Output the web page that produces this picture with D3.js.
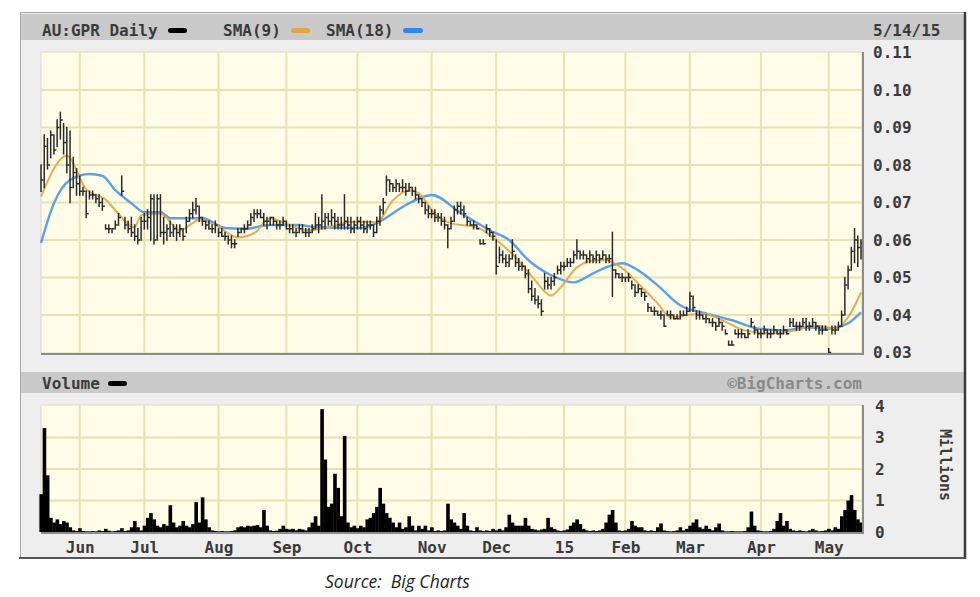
<!DOCTYPE html>
<html>
<head>
<meta charset="utf-8">
<script src="https://cdn.jsdelivr.net/npm/d3@7"></script>
<style>
  html, body { margin: 0; padding: 0; background: #ffffff; }
  svg { display: block; }
</style>
</head>
<body>
<svg id="chart" width="980" height="597"></svg>
<script>
// ---------------- DATA ----------------
const symbolLabel = "AU:GPR Daily";
const dateLabel = "5/14/15";
// trading-day index of each month start, and its label
const monthTicks = [12, 32, 55, 76, 98, 121, 141, 162, 181, 201, 223, 244];
const monthLabels = ["Jun", "Jul", "Aug", "Sep", "Oct", "Nov", "Dec", "15", "Feb", "Mar", "Apr", "May"];
const priceTicks = [0.03, 0.04, 0.05, 0.06, 0.07, 0.08, 0.09, 0.10, 0.11];
const volumeTicks = [0, 1, 2, 3, 4];

// daily high / low / close (AUD), one value per trading day
const high = [
  .080,.088,.087,.089,.088,.092,.094,.091,.090,.089,
  .082,.079,.077,.074,.073,.073,.073,.072,.072,.071,
  .064,.064,.063,.065,.067,.077,.066,.065,.066,.064,
  .063,.066,.067,.068,.072,.072,.072,.072,.066,.064,
  .065,.064,.064,.064,.063,.066,.068,.070,.071,.069,
  .066,.065,.065,.064,.065,.063,.063,.062,.061,.061,
  .060,.063,.063,.064,.065,.067,.068,.068,.068,.067,
  .066,.066,.066,.065,.065,.066,.065,.064,.064,.063,
  .064,.064,.063,.063,.064,.067,.066,.072,.067,.067,
  .068,.067,.066,.066,.072,.066,.066,.065,.066,.066,
  .065,.065,.065,.064,.066,.069,.071,.077,.076,.075,
  .076,.075,.076,.075,.075,.074,.074,.072,.071,.070,
  .069,.068,.068,.067,.067,.066,.064,.066,.069,.070,
  .070,.069,.066,.065,.065,.064,.060,.060,.064,.063,
  .062,.060,.058,.057,.056,.056,.060,.056,.055,.054,
  .053,.052,.049,.047,.045,.044,.051,.050,.050,.051,
  .053,.054,.054,.055,.055,.057,.060,.057,.057,.056,
  .057,.056,.057,.056,.057,.056,.056,.062,.052,.051,
  .051,.050,.051,.049,.048,.048,.047,.046,.043,.042,
  .042,.041,.041,.040,.041,.041,.040,.040,.041,.041,
  .042,.046,.045,.041,.041,.040,.040,.039,.039,.038,
  .039,.038,.036,.033,.033,.036,.036,.036,.035,.036,
  .039,.037,.036,.036,.037,.036,.036,.037,.036,.036,
  .037,.036,.039,.039,.038,.038,.039,.039,.038,.039,
  .038,.037,.037,.037,.031,.037,.037,.038,.041,.050,
  .053,.058,.063,.061,.060
];
const low = [
  .073,.074,.079,.082,.083,.085,.087,.083,.078,.070,
  .074,.072,.072,.072,.066,.071,.071,.070,.069,.068,
  .063,.062,.062,.063,.064,.072,.063,.062,.061,.060,
  .059,.060,.063,.063,.060,.059,.060,.061,.059,.060,
  .061,.061,.060,.061,.060,.062,.065,.066,.067,.065,
  .064,.063,.063,.062,.062,.061,.061,.060,.059,.058,
  .058,.061,.062,.062,.063,.064,.065,.066,.066,.064,
  .063,.064,.064,.063,.063,.064,.063,.062,.062,.061,
  .062,.062,.061,.061,.062,.063,.062,.063,.063,.064,
  .064,.063,.063,.063,.063,.063,.062,.062,.063,.063,
  .062,.062,.063,.061,.062,.064,.067,.072,.073,.073,
  .073,.073,.073,.072,.073,.072,.071,.070,.069,.067,
  .066,.066,.065,.065,.064,.063,.058,.063,.065,.067,
  .067,.066,.064,.064,.063,.063,.059,.059,.062,.061,
  .060,.051,.054,.054,.053,.053,.055,.053,.052,.052,
  .050,.046,.044,.043,.042,.040,.047,.047,.047,.048,
  .051,.051,.052,.053,.053,.054,.055,.055,.055,.054,
  .054,.054,.054,.054,.055,.054,.054,.045,.050,.050,
  .049,.049,.049,.047,.045,.046,.045,.044,.041,.041,
  .040,.040,.039,.037,.040,.039,.039,.039,.039,.040,
  .040,.041,.041,.039,.039,.039,.038,.038,.037,.036,
  .037,.036,.035,.032,.032,.035,.034,.034,.034,.034,
  .037,.035,.034,.034,.035,.034,.034,.035,.035,.034,
  .035,.035,.037,.037,.036,.036,.037,.036,.036,.037,
  .036,.035,.035,.036,.030,.035,.035,.036,.037,.040,
  .047,.052,.054,.053,.055
];
const close = [
  .076,.085,.080,.088,.084,.090,.092,.086,.080,.074,
  .078,.075,.073,.073,.067,.072,.072,.071,.070,.069,
  .063,.063,.063,.064,.066,.073,.064,.063,.062,.061,
  .060,.065,.065,.066,.071,.060,.071,.062,.062,.063,
  .062,.063,.062,.063,.061,.065,.067,.068,.069,.066,
  .065,.064,.063,.063,.064,.062,.061,.061,.060,.059,
  .059,.062,.063,.063,.064,.066,.067,.067,.066,.065,
  .065,.066,.065,.064,.064,.065,.063,.063,.062,.062,
  .063,.062,.062,.062,.063,.064,.064,.065,.066,.065,
  .066,.065,.064,.064,.065,.064,.063,.064,.065,.064,
  .063,.064,.064,.062,.065,.068,.070,.076,.075,.074,
  .075,.074,.074,.073,.074,.073,.072,.071,.070,.068,
  .067,.067,.066,.066,.065,.064,.063,.065,.068,.069,
  .068,.067,.065,.064,.064,.063,.059,.059,.063,.062,
  .061,.053,.056,.055,.054,.055,.057,.054,.053,.053,
  .051,.047,.045,.044,.043,.041,.049,.048,.049,.050,
  .052,.053,.053,.054,.054,.056,.057,.056,.056,.055,
  .056,.055,.056,.055,.056,.055,.055,.052,.051,.050,
  .050,.050,.050,.048,.046,.047,.046,.045,.042,.041,
  .041,.040,.040,.037,.040,.040,.039,.039,.040,.040,
  .041,.045,.042,.040,.040,.039,.039,.038,.038,.037,
  .038,.037,.035,.032,.032,.035,.035,.035,.034,.035,
  .038,.036,.035,.035,.036,.035,.035,.036,.035,.035,
  .036,.035,.038,.037,.037,.037,.038,.037,.037,.038,
  .037,.036,.036,.036,.030,.036,.036,.037,.040,.048,
  .052,.057,.060,.058,.059
];
// daily volume, millions of shares
const volume = [
  1.2,3.3,1.8,0.45,0.3,0.4,0.25,0.35,0.3,0.15,
  0.05,0.03,0.12,0.03,0.02,0.02,0.03,0.02,0.05,0.03,
  0.1,0.04,0.02,0.03,0.05,0.12,0.03,0.05,0.15,0.35,
  0.15,0.05,0.2,0.45,0.6,0.4,0.2,0.15,0.25,0.2,
  0.85,0.3,0.15,0.2,0.35,0.2,0.15,0.25,0.95,0.3,
  1.1,0.4,0.15,0.05,0.03,0.02,0.03,0.02,0.02,0.03,
  0.05,0.15,0.18,0.15,0.2,0.18,0.2,0.22,0.15,0.7,
  0.2,0.05,0.03,0.04,0.1,0.2,0.1,0.08,0.1,0.05,
  0.1,0.08,0.05,0.15,0.3,0.5,0.2,3.9,2.3,0.8,
  0.9,1.85,1.4,0.5,3.05,0.3,0.15,0.2,0.12,0.2,
  0.15,0.4,0.45,0.6,0.8,1.4,0.9,0.6,0.45,0.3,
  0.15,0.3,0.1,0.15,0.5,0.2,0.05,0.2,0.1,0.2,
  0.05,0.15,0.03,0.05,0.03,0.05,0.9,0.4,0.3,0.2,
  0.1,0.6,0.2,0.05,0.03,0.15,0.05,0.03,0.05,0.03,
  0.1,0.05,0.1,0.05,0.15,0.55,0.3,0.2,0.2,0.2,
  0.45,0.2,0.1,0.08,0.05,0.08,0.1,0.45,0.15,0.1,
  0.05,0.03,0.05,0.08,0.2,0.3,0.4,0.25,0.1,0.05,
  0.03,0.05,0.03,0.05,0.1,0.3,0.55,0.7,0.3,0.05,
  0.03,0.05,0.1,0.35,0.2,0.15,0.15,0.05,0.03,0.05,
  0.03,0.15,0.27,0.05,0.03,0.02,0.03,0.05,0.15,0.05,
  0.1,0.2,0.3,0.4,0.15,0.1,0.2,0.1,0.05,0.15,
  0.27,0.05,0.02,0.02,0.03,0.02,0.02,0.02,0.03,0.15,
  0.65,0.2,0.05,0.03,0.02,0.02,0.03,0.1,0.35,0.6,
  0.2,0.35,0.1,0.05,0.03,0.05,0.03,0.02,0.05,0.1,
  0.05,0.02,0.03,0.05,0.1,0.05,0.15,0.1,0.5,0.7,
  1.0,1.17,0.7,0.4,0.3
];

// moving averages (trading-day index, value)
const sma9Days = [0,8,14,20,23,29,31,37,43,49,54,61,66,71,77,83,89,96,104,109,114,117,122,127,135,141,147,153,158,161,166,172,175,180,185,191,195,200,205,211,218,226,234,240,246,250,254];
const sma9Vals = [.0716,.0825,.0735,.0708,.068,.0634,.0666,.067,.0626,.0653,.064,.0607,.0618,.0658,.064,.0626,.0634,.0648,.0648,.0706,.0733,.0725,.067,.0645,.0634,.060,.0554,.0493,.0452,.0474,.0527,.0546,.0546,.0525,.0484,.0431,.0394,.0399,.0404,.0386,.0359,.0351,.0359,.0372,.0364,.0394,.046];
const sma18Days = [0,4,9,15,19,23,28,32,37,40,50,57,63,71,80,85,99,104,112,118,121,130,139,145,151,158,165,171,175,180,185,191,198,206,214,222,230,237,244,250,254];
const sma18Vals = [.0592,.0698,.076,.0776,.0771,.0733,.0698,.0674,.0674,.0658,.0658,.0632,.063,.064,.064,.0634,.0632,.0645,.0688,.0714,.072,.0672,.0626,.060,.0546,.0506,.0487,.0511,.0527,.0538,.0519,.0479,.0426,.0404,.0386,.0364,.0359,.0367,.0364,.0378,.0407];

// ---------------- DRAWING ----------------
const svg = d3.select("#chart");
const FONT = "'DejaVu Sans Mono', monospace";
const N = close.length;

const x = d3.scaleLinear().domain([0, N - 1]).range([41, 861]);
const yP = d3.scaleLinear().domain([0.03, 0.11]).range([352.5, 52.5]);
const yV = d3.scaleLinear().domain([0, 4]).range([532, 406]);

const P = {l: 41, r: 862, t: 52, b: 353};
const V = {l: 41, r: 862, t: 405, b: 532};

// outer frame
svg.append("rect").attr("x", 20.5).attr("y", 12.5).attr("width", 944).attr("height", 545)
  .attr("fill", "#eeeeee").attr("stroke", "#a8a8a8");
svg.append("rect").attr("x", 21).attr("y", 14).attr("width", 943).attr("height", 26).attr("fill", "#c9c9c9");
svg.append("rect").attr("x", 21).attr("y", 372).attr("width", 943).attr("height", 21).attr("fill", "#c9c9c9");
svg.append("line").attr("x1", 965).attr("x2", 965).attr("y1", 12).attr("y2", 559).attr("stroke", "#3a3a3a").attr("stroke-width", 2.5);
svg.append("line").attr("x1", 19).attr("x2", 966).attr("y1", 558).attr("y2", 558).attr("stroke", "#555").attr("stroke-width", 2);

// plot backgrounds
function panel(b) {
  svg.append("rect").attr("x", b.l).attr("y", b.t).attr("width", b.r - b.l).attr("height", b.b - b.t)
    .attr("fill", "#fffde8").attr("stroke", "#d8d8c8").attr("stroke-width", 1);
}
panel(P); panel(V);

// grids
const gridColor = "#e6e2b4";
function vgrid(b) {
  svg.append("g").selectAll("line").data(monthTicks).join("line")
    .attr("x1", d => x(d)).attr("x2", d => x(d)).attr("y1", b.t).attr("y2", b.b)
    .attr("stroke", gridColor).attr("stroke-width", 2);
}
vgrid(P); vgrid(V);
svg.append("g").selectAll("line").data(priceTicks.slice(1, -1)).join("line")
  .attr("x1", P.l).attr("x2", P.r).attr("y1", d => yP(d)).attr("y2", d => yP(d))
  .attr("stroke", gridColor).attr("stroke-width", 2);
svg.append("g").selectAll("line").data(volumeTicks.slice(1, -1)).join("line")
  .attr("x1", V.l).attr("x2", V.r).attr("y1", d => yV(d)).attr("y2", d => yV(d))
  .attr("stroke", gridColor).attr("stroke-width", 2);

// shadows on right/bottom of panels
function shadow(b) {
  svg.append("path").attr("d", `M${b.r + 1},${b.t} V${b.b + 1} H${b.l}`)
    .attr("fill", "none").attr("stroke", "#8c8c8c").attr("stroke-width", 2);
}

// SMA lines
const smaLine = d3.line().curve(d3.curveMonotoneX);
svg.append("path")
  .attr("d", smaLine(sma18Days.map((d, i) => [x(d), yP(sma18Vals[i])])))
  .attr("fill", "none").attr("stroke", "#4d95ea").attr("stroke-width", 2.4).attr("opacity", 0.9);
svg.append("path")
  .attr("d", smaLine(sma9Days.map((d, i) => [x(d), yP(sma9Vals[i])])))
  .attr("fill", "none").attr("stroke", "#e2a544").attr("stroke-width", 2).attr("opacity", 0.9);

// price bars (high-low with close tick)
const bars = d3.range(N).map(i => ({i, h: high[i], l: low[i], c: close[i]}));
const gb = svg.append("g").attr("stroke", "#2a2a2a").attr("stroke-width", 1.5);
gb.selectAll("line.hl").data(bars).join("line").attr("class", "hl")
  .attr("x1", d => x(d.i)).attr("x2", d => x(d.i))
  .attr("y1", d => yP(d.h) - 0.8).attr("y2", d => yP(d.l) + 0.8);
gb.selectAll("line.cl").data(bars).join("line").attr("class", "cl")
  .attr("x1", d => x(d.i)).attr("x2", d => x(d.i) + 2.5)
  .attr("y1", d => yP(d.c)).attr("y2", d => yP(d.c));

// volume
const step = x(1) - x(0);
svg.append("g").selectAll("rect").data(volume).join("rect")
  .attr("x", (d, i) => x(i) - step / 2).attr("width", step + 0.4)
  .attr("y", d => yV(d)).attr("height", d => yV(0) - yV(d))
  .attr("fill", "#000");

shadow(P); shadow(V);

// axes
function styleAxis(g) {
  g.select(".domain").remove();
  g.selectAll("line").remove();
  g.selectAll("text").attr("font-family", FONT).attr("font-size", 16).attr("font-weight", "bold").attr("fill", "#3a3a3a");
}
svg.append("g").attr("transform", `translate(${P.r},0)`)
  .call(d3.axisRight(yP).tickValues(priceTicks).tickFormat(d3.format(".2f")).tickSize(0).tickPadding(11))
  .call(styleAxis);
svg.append("g").attr("transform", `translate(${V.r},0)`)
  .call(d3.axisRight(yV).tickValues(volumeTicks).tickFormat(d3.format("d")).tickSize(0).tickPadding(13))
  .call(styleAxis);
svg.append("g").attr("transform", `translate(0,${V.b})`)
  .call(d3.axisBottom(x).tickValues(monthTicks).tickFormat((d, i) => monthLabels[i]).tickSize(0).tickPadding(10))
  .call(styleAxis);

// header texts & legend
function label(t, px, py, opts = {}) {
  return svg.append("text").attr("x", px).attr("y", py).text(t)
    .attr("font-family", FONT).attr("font-size", opts.size || 16).attr("font-weight", "bold")
    .attr("fill", opts.fill || "#3a3a3a").attr("dominant-baseline", "central")
    .attr("text-anchor", opts.anchor || "start");
}
label(symbolLabel, 42, 30);
svg.append("rect").attr("x", 168).attr("y", 28).attr("width", 19).attr("height", 5).attr("rx", 2.5).attr("fill", "#000");
label("SMA(9)", 223, 30);
svg.append("rect").attr("x", 291).attr("y", 28).attr("width", 19).attr("height", 5).attr("rx", 2.5).attr("fill", "#e2a544");
label("SMA(18)", 326, 30);
svg.append("rect").attr("x", 403).attr("y", 28).attr("width", 20).attr("height", 5).attr("rx", 2.5).attr("fill", "#2f86ef");
label(dateLabel, 873, 30);

label("Volume", 42, 383);
svg.append("rect").attr("x", 108).attr("y", 381).attr("width", 19).attr("height", 5).attr("rx", 2.5).attr("fill", "#000");
label("\u00A9BigCharts.com", 862, 383, {anchor: "end", fill: "#8a8a8a"});

svg.append("text").attr("transform", "translate(945,465) rotate(90)")
  .attr("text-anchor", "middle").attr("dominant-baseline", "central")
  .attr("font-family", FONT).attr("font-size", 15).attr("font-weight", "bold").attr("fill", "#3a3a3a")
  .text("Millions");

svg.append("text").attr("x", 325).attr("y", 581).attr("dominant-baseline", "central")
  .attr("font-family", "'Open Sans', sans-serif").attr("font-style", "italic").attr("font-size", 17.5)
  .attr("fill", "#1e1e1e").attr("xml:space", "preserve").text("Source:  Big Charts");
</script>
</body>
</html>
